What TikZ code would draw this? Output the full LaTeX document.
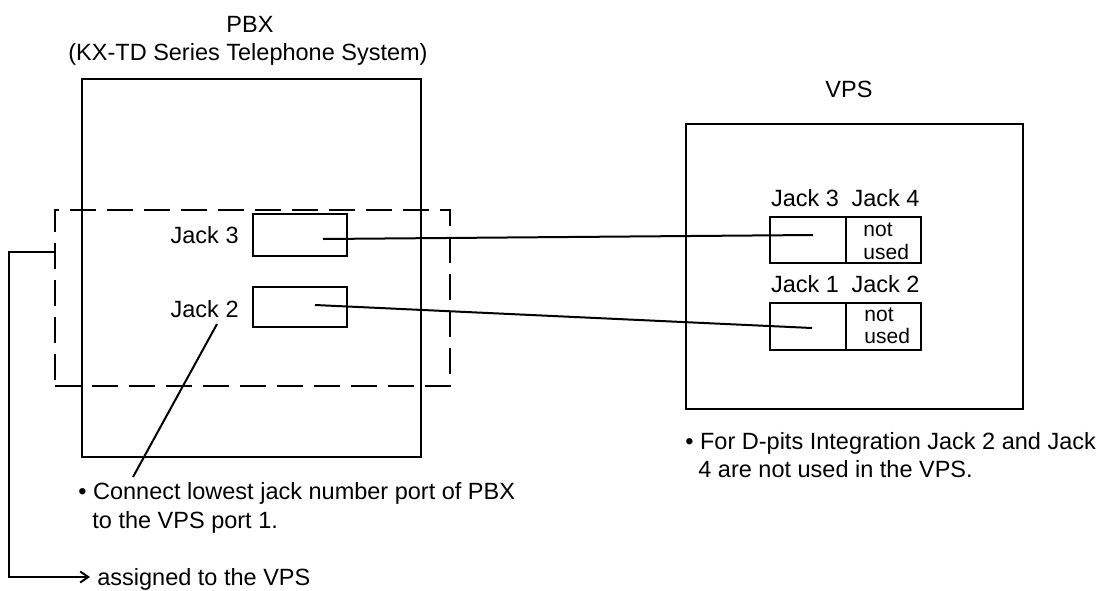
\documentclass[tikz,border=0pt]{standalone}
\usepackage{fontspec}
\setmainfont{Liberation Sans}
\usetikzlibrary{arrows.meta}
\begin{document}
\begin{tikzpicture}[x=0.5pt,y=-0.5pt,
  box/.style={draw, line width=1.1pt, inner sep=0pt},
  dashbox/.style={draw, line width=1.1pt, inner sep=0pt, dash pattern=on 13pt off 5.5pt},
  wire/.style={line width=1pt},
  lbl/.style={inner sep=0pt, font=\fontsize{11.75}{14}\selectfont, anchor=base},
  small/.style={inner sep=0pt, font=\fontsize{10.5}{12}\selectfont, anchor=base west}]
\useasboundingbox (0,0) rectangle (1110,590);
% PBX side
\node[box, minimum width=169.5pt, minimum height=189pt] (pbx) at (251.5,268) {};
\node[dashbox, minimum width=197.5pt, minimum height=88pt] (dsh) at (252.5,298) {};
\node[box, minimum width=47pt, minimum height=21pt] (j3) at (300,235) {};
\node[box, minimum width=47pt, minimum height=20pt] (j2) at (300,307) {};
\node[lbl] (tPBX) at (250,32) {PBX};
\node[lbl] (tKX) at (248,60) {(KX-TD Series Telephone System)};
\node[lbl, anchor=base east] (lj3) at (239,243) {Jack 3};
\node[lbl, anchor=base east] (lj2) at (239,317) {Jack 2};
% VPS side
\node[box, minimum width=168.5pt, minimum height=142.5pt] (vps) at (854.5,266.5) {};
\node[box, minimum width=38pt, minimum height=23pt] (v3) at (808,240) {};
\node[box, minimum width=37.5pt, minimum height=23pt] (v4) at (883.5,240) {};
\node[box, minimum width=38pt, minimum height=23.5pt] (v1) at (808,326.5) {};
\node[box, minimum width=37.5pt, minimum height=23.5pt] (v2) at (883.5,326.5) {};
\node[lbl] (tVPS) at (849,97) {VPS};
\node[lbl] (lv3) at (805,206) {Jack 3};
\node[lbl] (lv4) at (885.5,206) {Jack 4};
\node[lbl] (lv1) at (805,292) {Jack 1};
\node[lbl] (lv2) at (885.5,292) {Jack 2};
\node[small] (n4a) at (863,236) {not};
\node[small] (n4b) at (863,259) {used};
\node[small] (n2a) at (864,321) {not};
\node[small] (n2b) at (864,343) {used};
% notes
\node[lbl, anchor=base west] (note1) at (78,499) {\textbullet\ Connect lowest jack number port of PBX};
\node[lbl, anchor=base west] (note1b) at (92,528) {to the VPS port 1.};
\node[lbl, anchor=base west] (note2) at (685,449) {\textbullet\ For D-pits Integration Jack 2 and Jack};
\node[lbl, anchor=base west] (note2b) at (698,477) {4 are not used in the VPS.};
\node[lbl, anchor=base west] (asg) at (97,585) {assigned to the VPS};
% connectors
\coordinate (j3p) at (323,239);
\coordinate (v3p) at (813,235);
\coordinate (j2p) at (315,305);
\coordinate (v1p) at (812,328);
\coordinate (ptop) at (217,324);
\coordinate (pbot) at (133,477);
\coordinate (lstart) at (55,252);
\coordinate (lcorner) at (9,577);
\coordinate (atip) at (90,577);
\draw[wire] (j3p) -- (v3p);
\draw[wire] (j2p) -- (v1p);
\draw[wire] (ptop) -- (pbot);
\draw[wire, -{Straight Barb[length=4pt,width=5.5pt]}] (lstart) -| (lcorner) -- (atip);
\end{tikzpicture}
\end{document}
